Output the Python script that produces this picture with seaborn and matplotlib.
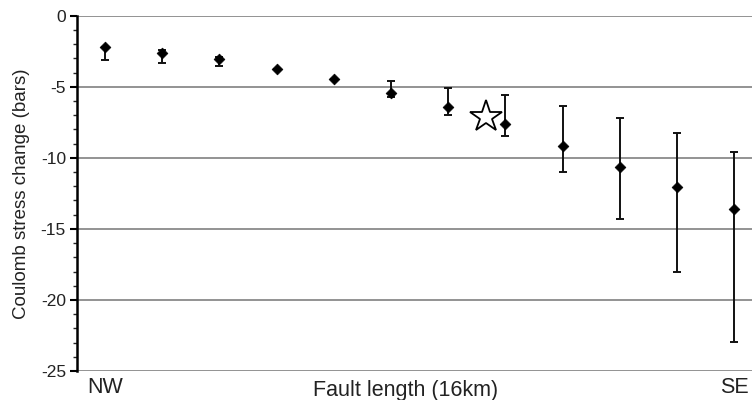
import numpy as np
import pandas as pd
import matplotlib
matplotlib.use('Agg')
import matplotlib.pyplot as plt
import seaborn as sns

# values (position along fault, NW -> SE)
position = [1, 2, 3, 4, 5, 6, 7, 8, 9, 10, 11, 12]
stress = [-2.2, -2.6, -3.07, -3.78, -4.46, -5.42, -6.45, -7.65, -9.15, -10.63, -12.08, -13.6]
upper = [-2.2, -2.4, -2.93, -3.78, -4.46, -4.6, -5.11, -5.58, -6.38, -7.23, -8.24, -9.58]
lower = [-3.12, -3.3, -3.56, -3.78, -4.46, -5.7, -7.0, -8.47, -11.03, -14.34, -18.05, -22.96]
star_x = [7.66]
star_y = [-7.15]
end_labels = ['NW', 'SE']
end_positions = [1, 12]

df = pd.DataFrame({'pos': position, 'stress': stress, 'upper': upper, 'lower': lower})

sns.set_style('white')
plt.rcParams['font.family'] = ['Liberation Sans', 'DejaVu Sans']
plt.rcParams['axes.unicode_minus'] = False

fig = plt.figure(figsize=(7.52, 4.0), dpi=100)
ax = fig.add_axes([0.1024, 0.0725, 0.8976, 0.8883])

# gridlines
for yv in [0, -5, -10, -15, -20, -25]:
    ax.axhline(yv, color='#808080', lw=1.2, zorder=0)

# error bars (asymmetric range)
yerr = np.array([df['stress'] - df['lower'], df['upper'] - df['stress']])
ax.errorbar(df['pos'], df['stress'], yerr=yerr, fmt='none', ecolor='#111111',
            elinewidth=1.4, capsize=3, capthick=1.4, zorder=2)

sns.scatterplot(data=df, x='pos', y='stress', marker='D', color='black',
                s=30, edgecolor='black', linewidth=0.5, ax=ax, zorder=3)

ax.plot(star_x, star_y, marker='*', markersize=24, markerfacecolor='white',
        markeredgecolor='black', markeredgewidth=1.3, linestyle='none', zorder=3)

ax.set_xlim(0.51, 12.31)
ax.set_ylim(-25, 0)
ax.set_yticks([0, -5, -10, -15, -20, -25])
ax.set_yticks(np.arange(-25, 1, 1), minor=True)
ax.tick_params(axis='y', which='major', direction='out', length=5, width=1.5,
               labelsize=12.5, pad=3, colors='black', labelcolor='#222222', left=True)
ax.tick_params(axis='y', which='minor', direction='out', length=3, width=1, left=True)
ax.set_xticks(end_positions)
ax.set_xticklabels(end_labels)
ax.tick_params(axis='x', length=0, labelsize=15.5, pad=4, labelcolor='#222222')
ax.set_xlabel('')
ax.set_ylabel('Coulomb stress change (bars)', fontsize=13.5, color='#222222')
ax.yaxis.set_label_coords(-0.07, 0.5)
ax.text(0.487, -0.025, 'Fault length (16km)', transform=ax.transAxes, ha='center',
        va='top', fontsize=15.5, color='#222222')

for s in ['top', 'right', 'bottom']:
    ax.spines[s].set_visible(False)
ax.spines['left'].set_color('black')
ax.spines['left'].set_linewidth(1.8)

fig.savefig('out.png', dpi=100)
